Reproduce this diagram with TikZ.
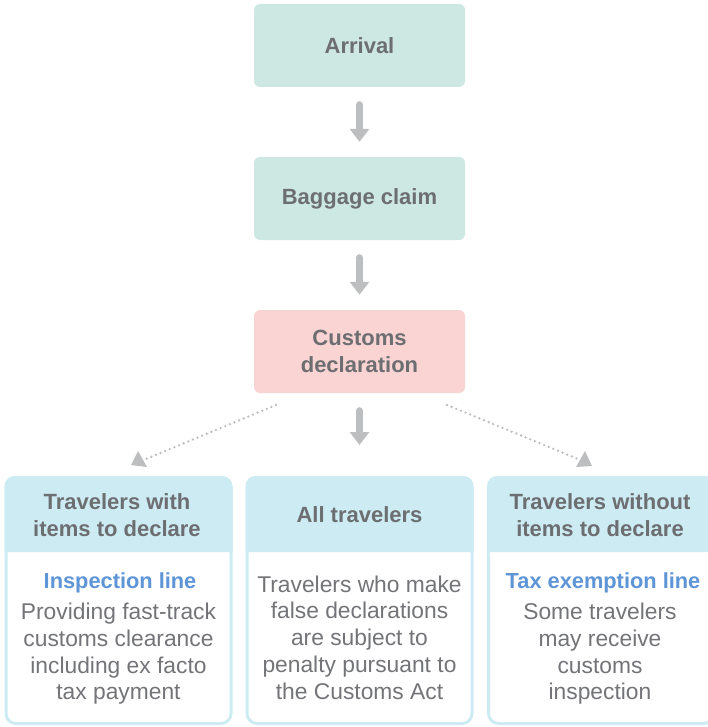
\documentclass[tikz,border=0pt]{standalone}
\usepackage{fontspec}
\setmainfont{Liberation Sans}
\usetikzlibrary{arrows.meta,calc}
\definecolor{txtgrey}{HTML}{6D6E71}
\definecolor{bodygrey}{HTML}{737477}
\definecolor{boxgreen}{HTML}{CDE8E2}
\definecolor{boxpink}{HTML}{FAD4D2}
\definecolor{boxblue}{HTML}{CDEBF2}
\definecolor{arrowgrey}{HTML}{BCBEC0}
\definecolor{titleblue}{HTML}{5E95D6}
\tikzset{
  topbox/.style={minimum width=211pt, minimum height=83pt, rounded corners=6pt, inner sep=0pt,
    text=txtgrey, align=center, font=\fontsize{22}{27}\selectfont\bfseries},
  bigarrow/.style={line width=7pt, draw=arrowgrey, line cap=round,
    -{Triangle[width=19pt,length=13pt]}, shorten <=17.5pt},
  dotline/.style={draw=arrowgrey, line width=2.6pt, line cap=round, dash pattern=on 0pt off 5pt},
  outerbox/.style={draw=boxblue, line width=3pt, rounded corners=10pt, minimum width=225pt,
    minimum height=246pt, inner sep=0pt},
  headtxt/.style={text=txtgrey, align=center, inner sep=0pt, font=\fontsize{22}{27}\selectfont\bfseries},
  titletxt/.style={text=titleblue, align=center, inner sep=0pt, font=\fontsize{21.8}{27}\selectfont\bfseries},
  bodytxt/.style={text=bodygrey, align=center, inner sep=0pt, font=\fontsize{22.8}{26.7}\selectfont},
}
\begin{document}
\begin{tikzpicture}[x=1pt,y=-1pt]
\useasboundingbox (0,0) rectangle (708,727);
\clip (0,0) rectangle (708,727);

% top chain
\node[topbox, fill=boxgreen] (arrival) at (359.5,45.5) {Arrival};
\node[topbox, fill=boxgreen] (baggage) at (359.5,198.5) {Baggage claim};
\node[topbox, fill=boxpink] (customs) at (359.5,351.5) {Customs\\declaration};

% bottom boxes
\node[outerbox] (leftbox) at (118.5,600.5) {};
\node[outerbox] (midbox) at (359.5,600.5) {};
\node[outerbox] (rightbox) at (601,600.5) {};
\foreach \b in {leftbox,midbox,rightbox}{
  \fill[boxblue] ($(\b.north west)+(0,76)$) [rounded corners=10pt] -- (\b.north west) -- (\b.north east) [sharp corners] -- ($(\b.north east)+(0,76)$) -- cycle;
}

% headers
\node[headtxt] (lefthead) at (117,515) {Travelers with\\items to declare};
\node[headtxt] (midhead) at (359.5,515) {All travelers};
\node[headtxt] (righthead) at (600,515) {Travelers without\\items to declare};

% bodies
\node[titletxt] (lefttitle) at (120,583) {Inspection line};
\node[bodytxt] (leftbody) at (118.5,654) {Providing fast-track\\customs clearance\\including ex facto\\tax payment};
\node[bodytxt] (midbody) at (359.5,637.5) {Travelers who make\\false declarations\\are subject to\\penalty pursuant to\\the Customs Act};
\node[titletxt] (righttitle) at (603,583) {Tax exemption line};
\node[bodytxt] (rightbody) at (600,654) {Some travelers\\may receive\\customs\\inspection};

% block arrows
\draw[bigarrow, shorten >=15pt] (arrival) -- (baggage);
\draw[bigarrow, shorten >=15pt] (baggage) -- (customs);
\draw[bigarrow, shorten >=31pt] (customs) -- (midbox.north);

% dotted arrows
\coordinate (dl1) at (276,405);
\coordinate (dl2) at (146,459);
\coordinate (dr1) at (447,405);
\coordinate (dr2) at (578,459);
\draw[dotline] (dl1) -- (dl2);
\draw[dotline] (dr1) -- (dr2);
\fill[arrowgrey] (138,451) -- (131,465) -- (147,467) -- cycle;
\fill[arrowgrey] (585,451) -- (576,467) -- (592,466) -- cycle;
\end{tikzpicture}
\end{document}
